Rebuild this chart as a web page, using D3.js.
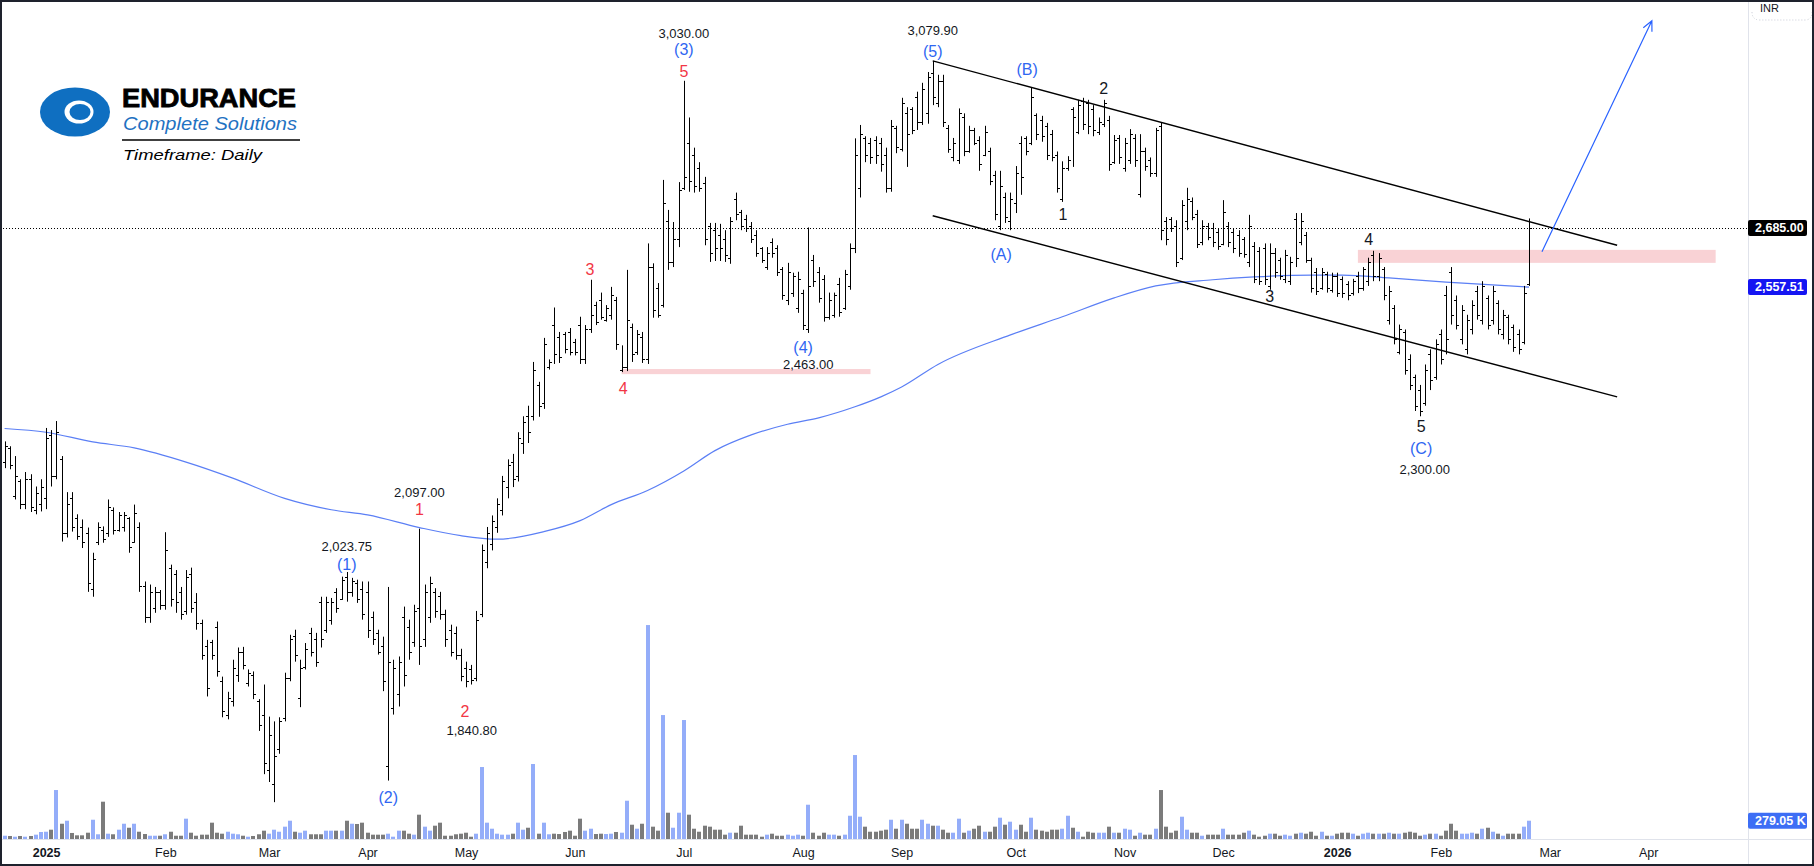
<!DOCTYPE html>
<html>
<head>
<meta charset="utf-8">
<script src="https://cdn.jsdelivr.net/npm/d3@7"></script>
<style>
	body { margin: 0; background: #fff; }
	svg { display: block; }
	text { font-family: "Liberation Sans", Arial, sans-serif; }
</style>
</head>
<body>
<svg id="chart" width="1814" height="866"></svg>
<script>
"use strict";

// Daily OHLC bars, Dec 2024 .. Feb 2026 (bar index 0 = first visible bar)
const opens = [
	2215,2240,2155,2180,2140,2185,2130,2140,2150,2265,
	2190,2220,2090,2150,2115,2100,2090,1995,2075,2095,
	2090,2130,2095,2100,2115,2075,2100,2000,1950,1965,
	1990,1970,2030,2020,1990,1960,2020,1975,1940,1905,
	1910,1935,1850,1800,1820,1860,1895,1848,1860,1820,
	1800,1720,1700,1750,1795,1855,1920,1825,1872,1925,
	1915,1975,1930,1945,1990,1980,2015,1990,2005,1995,
	1990,1950,1925,1905,1725,1810,1830,1950,1935,1910,
	1965,1915,1950,1990,1985,1955,1930,1925,1890,1870,
	1868,1855,1955,2040,2070,2100,2130,2170,2215,2190,
	2250,2300,2300,2360,2325,2395,2480,2455,2460,2465,
	2445,2480,2410,2470,2520,2530,2490,2500,2530,2390,
	2395,2475,2425,2455,2410,2600,2555,2520,2700,2610,
	2660,2775,2880,2850,2820,2785,2690,2680,2670,2660,
	2620,2750,2720,2705,2690,2670,2640,2600,2655,2640,
	2595,2530,2545,2515,2545,2470,2615,2590,2575,2495,
	2500,2565,2515,2560,2640,2775,2890,2880,2885,2880,
	2850,2775,2915,2865,2950,2960,2990,2930,2950,3050,
	2975,3030,2915,2845,2840,2940,2860,2910,2885,2850,
	2860,2805,2690,2755,2700,2740,2880,2890,2880,2945,
	2935,2920,2900,2850,2750,2820,2960,2905,2980,2975,
	2960,2905,2925,2935,2835,2890,2820,2840,2890,2760,
	2860,2840,2810,2920,2700,2705,2690,2620,2700,2745,
	2715,2655,2690,2685,2675,2650,2690,2675,2670,2660,
	2610,2645,2635,2640,2560,2630,2615,2575,2570,2705,
	2655,2670,2615,2590,2555,2585,2552,2580,2575,2565,
	2545,2580,2555,2570,2625,2580,2595,2490,2515,2425,
	2465,2410,2375,2350,2325,2420,2375,2460,2540,2590,
	2530,2450,2430,2470,2550,2490,2535,2490,2525,2460,
	2495,2475,2460,2445,2565
];
const highs = [
	2253,2244,2226,2184,2197,2193,2171,2184,2278,2274,
	2291,2226,2161,2161,2122,2113,2099,2056,2108,2101,
	2148,2134,2126,2126,2117,2139,2108,2008,2003,1999,
	1994,2091,2036,2027,1999,2027,2031,1989,1946,1914,
	1914,1943,1857,1834,1883,1902,1903,1868,1865,1823,
	1845,1797,1790,1796,1863,1922,1930,1883,1909,1933,
	1925,1983,1983,1981,1997,2016,2023.75,2014,2011,2008,
	2008,1959,1930,1919,1999,1883,1888,1967,1946,1970,
	2097,2003,2016,1997,1991,1962,1938,1935,1900,1880,
	1875,1960,2070,2100,2120,2150,2190,2220,2230,2270,
	2300,2320,2405,2366,2453,2410,2515,2465,2465,2473,
	2451,2496,2479,2573,2527,2546,2520,2558,2537,2438,
	2594,2482,2469,2465,2651,2608,2566,2793,2725,2698,
	2788,3030,2940,2868,2834,2800,2696,2696,2694,2680,
	2709,2764,2725,2714,2698,2680,2643,2643,2662,2647,
	2600,2609,2588,2590,2552,2686,2626,2600,2583,2546,
	2546,2577,2594,2651,2890,2922,2895,2891,2895,2891,
	2868,2934,2920,2988,2965,2965,3003,3025,3052,3079.9,
	3045,3045,2922,2891,2962,2950,2920,2915,2895,2920,
	2868,2814,2814,2764,2764,2825,2895,2895,3012,2950,
	2944,2927,2910,2859,2836,2848,2965,2983,2988,2983,
	2970,2940,2983,2944,2898,2898,2891,2912,2900,2900,
	2868,2845,2915,2927,2709,2709,2702,2747,2775,2753,
	2725,2702,2696,2696,2684,2747,2698,2684,2680,2665,
	2714,2654,2643,2651,2651,2641,2620,2637,2622,2718,
	2718,2676,2620,2598,2598,2590,2588,2588,2580,2570,
	2575,2590,2600,2620,2635,2630,2600,2560,2520,2480,
	2470,2420,2380,2360,2400,2430,2450,2470,2560,2600,
	2540,2520,2500,2530,2560,2570,2540,2560,2530,2510,
	2500,2480,2470,2560,2706
];
const lows = [
	2204,2202,2148,2131,2131,2126,2122,2127,2131,2171,
	2184,2075,2082,2092,2078,2064,1991,1983,2069,2073,
	2083,2087,2092,2092,2056,2073,1991,1941,1941,1957,
	1962,1962,1967,1957,1946,1954,1957,1930,1883,1827,
	1883,1857,1796,1793,1812,1849,1868,1842,1823,1776,
	1714,1703,1675,1743,1790,1850,1880,1811,1868,1888,
	1872,1902,1925,1938,1957,1978,1975,1983,1973,1946,
	1917,1906,1891,1835,1705,1800,1812,1842,1883,1903,
	1875,1903,1941,1949,1946,1903,1888,1883,1850,1840.8,
	1845,1850,1950,2030,2060,2090,2120,2150,2170,2180,
	2230,2250,2292,2299,2314,2390,2401,2403,2422,2418,
	2418,2401,2401,2463,2479,2490,2486,2490,2429,2385,
	2387,2405,2419,2403,2401,2494,2494,2515,2594,2600,
	2643,2770,2766,2764,2766,2647,2611,2613,2613,2611,
	2607,2702,2680,2676,2652,2622,2609,2594,2620,2581,
	2531,2520,2537,2504,2469,2463,2558,2525,2486,2490,
	2494,2496,2510,2552,2630,2753,2834,2830,2830,2812,
	2764,2766,2855,2859,2823,2900,2910,2922,2925,2970,
	2965,2917,2856,2836,2830,2848,2856,2874,2814,2848,
	2781,2702,2680,2696,2680,2718,2759,2850,2874,2886,
	2882,2839,2836,2764,2743,2814,2823,2900,2910,2900,
	2895,2898,2917,2814,2830,2830,2812,2830,2823,2753,
	2814,2800,2800,2658,2647,2676,2600,2615,2680,2702,
	2641,2647,2658,2643,2637,2647,2643,2630,2622,2620,
	2600,2566,2562,2562,2552,2577,2573,2566,2562,2600,
	2647,2609,2546,2541,2552,2546,2546,2537,2535,2530,
	2540,2545,2550,2560,2570,2570,2530,2480,2440,2420,
	2380,2350,2310,2300,2320,2350,2370,2400,2420,2480,
	2470,2440,2420,2460,2490,2480,2470,2480,2460,2450,
	2440,2425,2420,2440,2560
];
const closes = [
	2245,2210,2190,2140,2185,2135,2160,2170,2260,2190,
	2270,2090,2140,2100,2085,2075,2005,2045,2100,2080,
	2135,2095,2120,2120,2065,2125,2000,1950,1990,1990,
	1970,2060,1980,1975,1955,2015,1965,1940,1890,1840,
	1890,1865,1805,1825,1870,1895,1875,1862,1830,1785,
	1730,1770,1740,1790,1855,1915,1890,1870,1900,1895,
	1880,1915,1975,1975,1965,2010,1990,2008,1980,1955,
	1930,1915,1895,1850,1880,1870,1880,1860,1895,1960,
	1905,1990,2005,1960,1955,1915,1895,1890,1858,1850,
	1852,1945,2060,2090,2110,2140,2180,2210,2185,2260,
	2290,2270,2390,2320,2440,2405,2420,2415,2430,2425,
	2425,2410,2470,2500,2485,2495,2515,2540,2440,2395,
	2490,2420,2460,2410,2600,2510,2500,2740,2610,2660,
	2770,2800,2790,2780,2775,2660,2630,2640,2640,2625,
	2700,2715,2690,2685,2660,2630,2615,2630,2630,2590,
	2540,2590,2580,2575,2480,2560,2570,2535,2495,2530,
	2540,2505,2585,2640,2850,2900,2850,2845,2850,2830,
	2775,2920,2870,2975,2900,2910,2930,3010,3040,2990,
	3030,2930,2865,2880,2950,2860,2910,2880,2830,2905,
	2790,2715,2780,2710,2750,2810,2800,2860,2990,2900,
	2895,2850,2845,2775,2820,2840,2940,2970,2925,2920,
	2910,2930,2975,2830,2885,2845,2880,2900,2840,2860,
	2825,2810,2910,2680,2660,2685,2610,2735,2750,2710,
	2650,2690,2665,2655,2645,2720,2655,2640,2630,2628,
	2690,2575,2570,2575,2630,2590,2580,2625,2610,2620,
	2700,2615,2555,2550,2590,2555,2580,2545,2545,2540,
	2570,2555,2595,2610,2580,2620,2540,2550,2450,2470,
	2390,2360,2320,2310,2390,2370,2440,2410,2450,2500,
	2480,2510,2490,2520,2500,2560,2480,2550,2470,2500,
	2450,2435,2430,2545,2685
];
// volume in thousands
const volumes = [
	50,46,35,46,35,46,66,107,111,142,
	747,233,279,92,56,56,96,294,72,569,
	81,72,142,233,172,233,111,76,50,50,
	50,72,111,50,50,310,96,50,66,66,
	249,96,81,111,81,72,50,35,46,72,
	127,81,142,111,188,279,111,96,127,72,
	72,72,127,127,127,127,279,233,229,249,
	96,66,66,66,81,35,127,127,81,66,
	371,188,127,203,249,50,50,72,81,96,
	35,81,1098,249,157,81,66,66,81,249,
	142,172,1144,81,249,72,81,76,107,127,
	50,310,127,157,76,81,76,81,107,96,
	584,218,157,233,3264,188,127,1891,401,172,
	401,1815,371,157,111,203,188,142,142,66,
	96,96,203,66,66,66,35,66,81,50,
	50,66,50,66,50,523,96,50,96,66,
	66,50,66,355,1281,340,188,111,111,127,
	142,294,157,294,233,157,157,294,233,203,
	203,142,96,96,310,96,127,157,203,111,
	111,188,325,218,264,142,218,111,325,142,
	127,111,142,142,157,355,172,111,35,111,
	96,96,96,188,96,96,157,142,50,96,
	66,66,157,747,188,96,127,340,142,96,
	96,50,66,66,66,157,66,66,66,96,
	127,66,35,50,81,81,50,66,50,81,
	96,81,111,50,111,50,50,81,96,96,
	81,50,81,96,81,81,81,96,81,81,
	96,111,96,50,66,81,81,50,127,233,
	127,81,81,96,81,157,172,111,81,50,
	81,81,81,188,279.05
];

// moving average (bar index, value)
const maIdx = [0, 8, 17, 25, 35, 44, 54, 63, 70, 80, 88, 95, 104, 111, 117, 124, 131, 137, 144, 151, 157, 164, 169, 173, 180, 194, 204, 214, 222, 233, 241, 252, 258, 267, 278, 294];
const maVal = [2277, 2270, 2252, 2241, 2215, 2186, 2150, 2130, 2121, 2099, 2085, 2079, 2092, 2111, 2139, 2164, 2199, 2236, 2265, 2285, 2297, 2318, 2337, 2356, 2400, 2459, 2496, 2535, 2560, 2573, 2579, 2583, 2583, 2577, 2568, 2557.51];

// time axis
const monthLabels = ["2025", "Feb", "Mar", "Apr", "May", "Jun", "Jul", "Aug", "Sep", "Oct", "Nov", "Dec", "2026", "Feb", "Mar", "Apr"];
const monthIdx = [8, 31, 51, 70, 89, 110, 131, 154, 173, 195, 216, 235, 257, 277, 298, 317];

// price axis
const priceTicks = [3100, 3000, 2900, 2800, 2700, 2620, 2540, 2460, 2380, 2300, 2225, 2150, 2090, 2030, 1970, 1910, 1860, 1810, 1760, 1715, 1671, 1629];
const lastPrice = 2685;
const lastMa = 2557.51;
const lastVolume = 279.05;

// drawings: [startIdx, startPrice, endIdx, endPrice]
const channelLines = [[179, 3079.9, 311, 2647], [179, 2712, 311, 2337]];
const arrowLine = [296.5, 2633, 317.7, 3183];
// pink zones: [startIdx, endIdx, lowPrice, highPrice]
const zones = [[119, 167, 2381, 2391], [261, 330, 2609, 2637]];

// wave labels: [idx, price, text, kind]
const annotations = [
	[66, 2066, "2,023.75", "price"], [66, 2037, "(1)", "wave"],
	[80, 2161, "2,097.00", "price"], [80, 2131, "1", "red"],
	[74, 1681, "(2)", "wave"],
	[88.8, 1804, "2", "red"], [90.1, 1776, "1,840.80", "price"],
	[112.9, 2594, "3", "red"], [119.3, 2354, "4", "red"],
	[131, 3151, "3,030.00", "price"], [131, 3108, "(3)", "wave"], [131, 3054, "5", "red"],
	[154, 2433, "(4)", "wave"], [155, 2399, "2,463.00", "price"],
	[179, 3159, "3,079.90", "price"], [179, 3105, "(5)", "wave"],
	[192.2, 2626, "(A)", "wave"], [197.2, 3057, "(B)", "wave"],
	[204.1, 2714, "1", "black"], [212, 3010, "2", "black"],
	[244, 2537, "3", "black"], [263.1, 2659, "4", "black"],
	[273.2, 2280, "5", "black"], [273.2, 2239, "(C)", "wave"], [273.9, 2201, "2,300.00", "price"]
];

const W = 1814, H = 866;
const plotW = 1748, plotH = 839;
const step = 5.185;

const x = d3.scaleLinear().domain([0, 336]).range([4.6, 4.6 + 336 * step]);
const y = d3.scaleLog().domain([1629, 3100]).range([53 + 1217 * Math.log(3100 / 1629), 53]);
const yVol = d3.scaleLinear().domain([0, 12800]).range([plotH, 0]);

const bars = opens.map((o, i) => ({i, o, h: highs[i], l: lows[i], c: closes[i], v: volumes[i]}));

const svg = d3.select("#chart");
svg.append("rect").attr("width", W).attr("height", H).attr("fill", "#fff");

svg.append("clipPath").attr("id", "plotClip")
	.append("rect").attr("width", plotW).attr("height", plotH);

const plot = svg.append("g").attr("clip-path", "url(#plotClip)");

// zones
plot.selectAll(".zone").data(zones).enter().append("rect")
	.attr("x", d => x(d[0]))
	.attr("width", d => x(d[1]) - x(d[0]))
	.attr("y", d => y(d[3]))
	.attr("height", d => y(d[2]) - y(d[3]))
	.attr("fill", "#f9d2d5");

// volume
plot.selectAll(".vol").data(bars).enter().append("rect")
	.attr("x", d => Math.round(x(d.i)) - 2)
	.attr("width", 4)
	.attr("y", d => yVol(d.v))
	.attr("height", d => plotH - yVol(d.v))
	.attr("fill", d => d.c >= d.o ? "#94adf9" : "#7b7b7b");

// moving average
const maLine = d3.line().x(d => x(d[0])).y(d => y(d[1])).curve(d3.curveMonotoneX);
plot.append("path")
	.datum(maIdx.map((d, k) => [d, maVal[k]]))
	.attr("d", maLine)
	.attr("fill", "none")
	.attr("stroke", "#5b7ff5")
	.attr("stroke-width", 1.2);

// last price dotted line
plot.append("line")
	.attr("x1", 0).attr("x2", plotW)
	.attr("y1", Math.round(y(lastPrice)) + 0.5).attr("y2", Math.round(y(lastPrice)) + 0.5)
	.attr("stroke", "#000").attr("stroke-width", 1).attr("stroke-dasharray", "1,2");

// OHLC bars
const px = v => Math.round(v) + 0.5;
plot.selectAll(".bar").data(bars).enter().append("path")
	.attr("d", d => {
		const xi = px(x(d.i));
		return `M${xi},${y(d.h)}V${y(d.l)}M${xi - 2.5},${px(y(d.o))}H${xi}M${xi},${px(y(d.c))}H${xi + 2.5}`;
	})
	.attr("stroke", "#000")
	.attr("stroke-width", 1)
	.attr("fill", "none");

// channel
plot.selectAll(".chan").data(channelLines).enter().append("line")
	.attr("x1", d => x(d[0])).attr("y1", d => y(d[1]))
	.attr("x2", d => x(d[2])).attr("y2", d => y(d[3]))
	.attr("stroke", "#000").attr("stroke-width", 1.4);

// projection arrow
{
	const [i0, p0, i1, p1] = arrowLine;
	const ax0 = x(i0), ay0 = y(p0), ax1 = x(i1), ay1 = y(p1);
	const ang = Math.atan2(ay1 - ay0, ax1 - ax0);
	const len = 11, spread = 0.45;
	plot.append("path")
		.attr("d", `M${ax0},${ay0}L${ax1},${ay1}` +
			`M${ax1 - len * Math.cos(ang - spread)},${ay1 - len * Math.sin(ang - spread)}L${ax1},${ay1}` +
			`L${ax1 - len * Math.cos(ang + spread)},${ay1 - len * Math.sin(ang + spread)}`)
		.attr("fill", "none")
		.attr("stroke", "#2962ff")
		.attr("stroke-width", 1.2);
}

// annotations
const annStyle = {
	price: {size: 13, color: "#131722"},
	wave: {size: 16, color: "#2f66f2"},
	red: {size: 16, color: "#f23645"},
	black: {size: 16, color: "#131722"}
};
plot.selectAll(".ann").data(annotations).enter().append("text")
	.attr("x", d => x(d[0]))
	.attr("y", d => y(d[1]))
	.attr("text-anchor", "middle")
	.attr("dominant-baseline", "central")
	.attr("font-size", d => annStyle[d[3]].size)
	.attr("fill", d => annStyle[d[3]].color)
	.text(d => d[2]);

// logo
const logo = svg.append("g");
logo.append("ellipse").attr("cx", 75).attr("cy", 112).attr("rx", 35).attr("ry", 24.5).attr("fill", "#0f6fc1");
logo.append("ellipse").attr("cx", 79).attr("cy", 112).attr("rx", 14.5).attr("ry", 11.5).attr("fill", "#fff");
logo.append("ellipse").attr("cx", 80).attr("cy", 112).attr("rx", 10.5).attr("ry", 8).attr("fill", "#0f6fc1");
logo.append("text").attr("x", 122).attr("y", 107)
	.attr("font-family", "DejaVu Sans").attr("font-weight", "bold").attr("font-size", 25)
	.attr("stroke", "#000").attr("stroke-width", 0.8)
	.attr("textLength", 174).attr("lengthAdjust", "spacingAndGlyphs")
	.attr("fill", "#000").text("ENDURANCE");
logo.append("text").attr("x", 123).attr("y", 130)
	.attr("font-family", "DejaVu Serif").attr("font-style", "italic").attr("font-size", 19)
	.attr("textLength", 174).attr("lengthAdjust", "spacingAndGlyphs")
	.attr("fill", "#1f72c2").text("Complete Solutions");
logo.append("line").attr("x1", 122).attr("x2", 300).attr("y1", 140).attr("y2", 140)
	.attr("stroke", "#000").attr("stroke-width", 1.5);
logo.append("text").attr("x", 123).attr("y", 160)
	.attr("font-family", "DejaVu Sans").attr("font-style", "italic").attr("font-size", 15)
	.attr("textLength", 139).attr("lengthAdjust", "spacingAndGlyphs")
	.attr("fill", "#000").text("Timeframe: Daily");

// value boxes on the price axis (drawn later); tick labels under them are hidden like the original
const boxes = [
	{yy: y(lastPrice), text: d3.format(",.2f")(lastPrice), fill: "#000000"},
	{yy: y(lastMa), text: d3.format(",.2f")(lastMa), fill: "#1515f2"},
	{yy: yVol(lastVolume), text: d3.format(".2f")(lastVolume) + " K", fill: "#3d6ef5"}
];
const visibleTicks = priceTicks.filter(t => boxes.every(b => Math.abs(y(t) - b.yy) > 13));

// price axis
svg.append("rect").attr("x", plotW).attr("y", 0).attr("width", W - plotW).attr("height", H).attr("fill", "#fff");
svg.append("clipPath").attr("id", "axisClip")
	.append("rect").attr("x", plotW).attr("y", 0).attr("width", W - plotW).attr("height", plotH);
const yAxis = svg.append("g")
	.attr("transform", `translate(${plotW},0)`)
	.attr("clip-path", "url(#axisClip)")
	.call(d3.axisRight(y).tickValues(visibleTicks).tickSize(0).tickPadding(7).tickFormat(d3.format(",.2f")));
yAxis.select(".domain").remove();
yAxis.selectAll("text").attr("font-size", 12.5).attr("fill", "#131722")
	.attr("font-family", "Liberation Sans, Arial, sans-serif");

// time axis
svg.append("rect").attr("x", 0).attr("y", plotH).attr("width", W).attr("height", H - plotH).attr("fill", "#fff");
const xAxis = svg.append("g")
	.attr("transform", `translate(0,${plotH})`)
	.call(d3.axisBottom(x).tickValues(monthIdx).tickSize(0).tickPadding(9).tickFormat((d, k) => monthLabels[k]));
xAxis.select(".domain").remove();
xAxis.selectAll("text").attr("font-size", 12.5).attr("fill", "#131722")
	.attr("font-family", "Liberation Sans, Arial, sans-serif")
	.attr("font-weight", (d, k) => /^\d{4}$/.test(monthLabels[k]) ? "bold" : "normal");

svg.append("line").attr("x1", 0).attr("x2", W).attr("y1", plotH + 0.5).attr("y2", plotH + 0.5)
	.attr("stroke", "#e0e3eb");
svg.append("line").attr("x1", plotW + 0.5).attr("x2", plotW + 0.5).attr("y1", 0).attr("y2", H)
	.attr("stroke", "#e0e3eb");

// currency label
svg.append("text").attr("x", 1760).attr("y", 12).attr("font-size", 11).attr("fill", "#131722").text("INR");
svg.append("path").attr("d", "M1752,12 Q1752,20 1760,20 L1805,20 Q1812,20 1812,12")
	.attr("fill", "none").attr("stroke", "#c9ccd6").attr("stroke-dasharray", "1,2");

const boxG = svg.selectAll(".box").data(boxes).enter().append("g");
boxG.append("rect")
	.attr("x", plotW).attr("y", d => d.yy - 8)
	.attr("width", 59).attr("height", 16).attr("rx", 2)
	.attr("fill", d => d.fill);
boxG.append("text")
	.attr("x", plotW + 7).attr("y", d => d.yy)
	.attr("dominant-baseline", "central")
	.attr("font-size", 12.5).attr("font-weight", "bold").attr("fill", "#fff")
	.text(d => d.text);

// frame
svg.append("rect").attr("x", 1).attr("y", 1).attr("width", W - 2).attr("height", H - 2)
	.attr("fill", "none").attr("stroke", "#1e222d").attr("stroke-width", 2);
</script>
</body>
</html>
